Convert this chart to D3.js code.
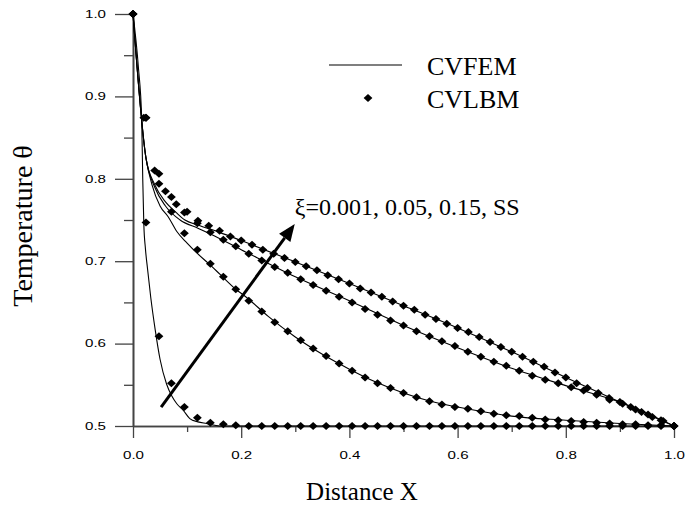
<!DOCTYPE html>
<html>
<head>
<meta charset="utf-8">
<script src="https://cdn.jsdelivr.net/npm/d3@7"></script>
<style>
  html, body { margin: 0; padding: 0; background: #fff; }
  svg { display: block; }
</style>
</head>
<body>
<div id="chart"></div>
<script>
// marker positions along X (CVLBM nodes)
const nodeX = [0, 0.024, 0.048, 0.071, 0.095, 0.119, 0.143, 0.167, 0.190, 0.214, 0.238, 0.262, 0.286, 0.310, 0.333,
  0.357, 0.381, 0.405, 0.429, 0.452, 0.476, 0.500, 0.524, 0.548, 0.571, 0.595, 0.619, 0.643, 0.667, 0.690, 0.714,
  0.738, 0.762, 0.786, 0.810, 0.833, 0.857, 0.881, 0.905, 0.929, 0.952, 0.976, 1.0];
const nodeXss = [0, 0.02, 0.04, 0.06, 0.08, 0.10, 0.12, 0.14, 0.16, 0.18, 0.20, 0.22, 0.24, 0.26, 0.28, 0.30, 0.32,
  0.34, 0.36, 0.38, 0.40, 0.42, 0.44, 0.46, 0.48, 0.50, 0.52, 0.54, 0.56, 0.58, 0.60, 0.62, 0.64, 0.66, 0.68, 0.70,
  0.72, 0.74, 0.76, 0.78, 0.80, 0.82, 0.84, 0.86, 0.88, 0.90, 0.92, 0.94, 0.96, 0.98, 1.0];

const lbm001 = [1.0, 0.747, 0.609, 0.552, 0.523, 0.510, 0.504, 0.502, 0.501, 0.5, 0.5, 0.5, 0.5, 0.5, 0.5, 0.5, 0.5,
  0.5, 0.5, 0.5, 0.5, 0.5, 0.5, 0.5, 0.5, 0.5, 0.5, 0.5, 0.5, 0.5, 0.5, 0.5, 0.5, 0.5, 0.5, 0.5, 0.5, 0.5, 0.5, 0.5,
  0.5, 0.5, 0.5];
const lbm005 = [1.0, 0.874, 0.794, 0.760, 0.734, 0.714, 0.697, 0.681, 0.666, 0.652, 0.639, 0.626, 0.615, 0.604, 0.594,
  0.585, 0.576, 0.567, 0.559, 0.552, 0.546, 0.540, 0.535, 0.530, 0.526, 0.523, 0.521, 0.518, 0.515, 0.513, 0.512,
  0.510, 0.508, 0.507, 0.506, 0.505, 0.504, 0.503, 0.502, 0.502, 0.501, 0.501, 0.500];
const lbm015 = [1.0, 0.874, 0.806, 0.778, 0.759, 0.746, 0.735, 0.726, 0.718, 0.709, 0.701, 0.693, 0.686, 0.678, 0.671,
  0.664, 0.657, 0.650, 0.642, 0.635, 0.628, 0.622, 0.615, 0.609, 0.603, 0.597, 0.590, 0.584, 0.578, 0.573, 0.567,
  0.561, 0.556, 0.552, 0.547, 0.543, 0.538, 0.532, 0.527, 0.520, 0.514, 0.507, 0.500];
const lbmSS = [1.0, 0.874, 0.810, 0.785, 0.769, 0.760, 0.749, 0.743, 0.737, 0.730, 0.725, 0.720, 0.714, 0.709, 0.704,
  0.699, 0.694, 0.689, 0.683, 0.678, 0.673, 0.667, 0.662, 0.657, 0.651, 0.646, 0.641, 0.635, 0.630, 0.624, 0.619,
  0.614, 0.608, 0.602, 0.596, 0.590, 0.584, 0.578, 0.572, 0.565, 0.559, 0.552, 0.546, 0.540, 0.534, 0.529, 0.523,
  0.517, 0.511, 0.506, 0.500];

// CVFEM solution curves
const femX001 = [0, 0.010, 0.016, 0.018, 0.020, 0.023, 0.027, 0.033, 0.041, 0.050, 0.062, 0.072, 0.081, 0.093, 0.105,
  0.120, 0.136, 0.160, 0.200, 1.0];
const fem001 = [1.0, 0.935, 0.874, 0.800, 0.745, 0.715, 0.690, 0.655, 0.617, 0.581, 0.551, 0.536, 0.527, 0.519, 0.509,
  0.505, 0.503, 0.500, 0.500, 0.500];
const femX005 = [0, 0.024, 0.035, 0.050, 0.065, 0.081, 0.100, 0.118, 0.140, 0.161, 0.190, 0.210, 0.250, 0.300, 0.350,
  0.400, 0.450, 0.500, 0.550, 0.600, 0.650, 0.700, 0.800, 0.900, 1.0];
const fem005 = [1.0, 0.825, 0.793, 0.767, 0.754, 0.736, 0.722, 0.710, 0.697, 0.684, 0.666, 0.656, 0.633, 0.608, 0.587,
  0.569, 0.553, 0.540, 0.530, 0.523, 0.517, 0.512, 0.507, 0.503, 0.500];
const femX015 = [0, 0.024, 0.040, 0.060, 0.087, 0.120, 0.143, 0.200, 0.300, 0.400, 0.500, 0.600, 0.700, 0.800, 0.900, 1.0];
const fem015 = [1.0, 0.825, 0.790, 0.767, 0.750, 0.740, 0.733, 0.714, 0.681, 0.652, 0.622, 0.595, 0.570, 0.549, 0.529, 0.500];
const femXss = [0, 0.024, 0.040, 0.060, 0.080, 0.096, 0.120, 0.160, 0.200, 0.300, 0.400, 0.500, 0.600, 0.700, 0.800,
  0.900, 1.0];
const femSS = [1.0, 0.825, 0.793, 0.772, 0.759, 0.750, 0.744, 0.735, 0.725, 0.699, 0.673, 0.646, 0.619, 0.590, 0.559,
  0.529, 0.500];

const xMajor = [0, 0.2, 0.4, 0.6, 0.8, 1.0];
const xMinor = [0.1, 0.3, 0.5, 0.7, 0.9];
const yMajor = [0.5, 0.6, 0.7, 0.8, 0.9, 1.0];
const yMinor = [0.55, 0.65, 0.75, 0.85, 0.95];

const legendLabels = ['CVFEM', 'CVLBM'];
const arrowFrom = [0.052, 0.523];
const arrowTo = [0.299, 0.745];
const arrowLabel = 'ξ=0.001, 0.05, 0.15, SS';

const width = 686;
const height = 508;
const serif = '"Liberation Serif", "Times New Roman", serif';
const sans = '"Liberation Sans", Arial, sans-serif';

const svg = d3.select('#chart').append('svg')
  .attr('width', width)
  .attr('height', height);

const x = d3.scaleLinear().domain([0, 1]).range([133, 674]);
const y = d3.scaleLinear().domain([0.5, 1]).range([426, 14]);

// axes
function styleAxis(g) {
  g.select('.domain').attr('stroke', '#444').attr('stroke-width', 1.6);
  g.selectAll('.tick line').attr('stroke', '#444').attr('stroke-width', 1.3);
}

const xAxis = svg.append('g')
  .attr('transform', `translate(0,${y(0.5)})`)
  .call(d3.axisBottom(x).tickValues(xMajor).tickSize(12).tickSizeOuter(0).tickPadding(14).tickFormat(d3.format('.1f')))
  .call(styleAxis);
xAxis.selectAll('text')
  .attr('font-family', sans).attr('font-size', 10).attr('fill', '#000')
  .attr('textLength', 21).attr('lengthAdjust', 'spacingAndGlyphs');

svg.append('g')
  .attr('transform', `translate(0,${y(0.5)})`)
  .call(d3.axisBottom(x).tickValues(xMinor).tickSize(6).tickSizeOuter(0).tickFormat(''))
  .call(styleAxis);

const yAxis = svg.append('g')
  .attr('transform', `translate(${x(0)},0)`)
  .call(d3.axisLeft(y).tickValues(yMajor).tickSize(18).tickSizeOuter(0).tickPadding(9).tickFormat(d3.format('.1f')))
  .call(styleAxis);
yAxis.selectAll('text')
  .attr('font-family', sans).attr('font-size', 10).attr('fill', '#000')
  .attr('textLength', 21).attr('lengthAdjust', 'spacingAndGlyphs');

svg.append('g')
  .attr('transform', `translate(${x(0)},0)`)
  .call(d3.axisLeft(y).tickValues(yMinor).tickSize(9).tickSizeOuter(0).tickFormat(''))
  .call(styleAxis);

// axis titles
svg.append('text')
  .attr('x', 362)
  .attr('y', 500)
  .attr('text-anchor', 'middle')
  .attr('font-family', serif)
  .attr('font-size', 25)
  .text('Distance X');

svg.append('text')
  .attr('transform', 'translate(32,226) rotate(-90)')
  .attr('text-anchor', 'middle')
  .attr('font-family', serif)
  .attr('font-size', 28)
  .text('Temperature θ');

// CVFEM lines
const line = d3.line()
  .x((d) => x(d[0]))
  .y((d) => y(d[1]))
  .curve(d3.curveMonotoneX);

const femSeries = [
  d3.zip(femX001, fem001),
  d3.zip(femX005, fem005),
  d3.zip(femX015, fem015),
  d3.zip(femXss, femSS),
];

svg.append('g')
  .selectAll('path')
  .data(femSeries)
  .join('path')
  .attr('d', line)
  .attr('fill', 'none')
  .attr('stroke', '#000')
  .attr('stroke-width', 1.1);

// CVLBM markers
const diamond = {
  draw(ctx, size) {
    const r = Math.sqrt(size) / 2;
    ctx.moveTo(0, -r);
    ctx.lineTo(r * 1.1, 0);
    ctx.lineTo(0, r);
    ctx.lineTo(-r * 1.1, 0);
    ctx.closePath();
  },
};
const marker = d3.symbol().type(diamond).size(64);

const lbmPoints = [].concat(
  d3.zip(nodeX, lbm001),
  d3.zip(nodeX, lbm005),
  d3.zip(nodeX, lbm015),
  d3.zip(nodeXss, lbmSS)
);

svg.append('g')
  .selectAll('path')
  .data(lbmPoints)
  .join('path')
  .attr('transform', (d) => `translate(${x(d[0])},${y(d[1])})`)
  .attr('d', marker)
  .attr('fill', '#000');

// arrow
const ax1 = x(arrowFrom[0]);
const ay1 = y(arrowFrom[1]);
const ax2 = x(arrowTo[0]);
const ay2 = y(arrowTo[1]);
const ang = Math.atan2(ay2 - ay1, ax2 - ax1);
const headLen = 17;
const headHalf = 7;
const bx = ax2 - headLen * Math.cos(ang);
const by = ay2 - headLen * Math.sin(ang);

svg.append('line')
  .attr('x1', ax1).attr('y1', ay1)
  .attr('x2', bx).attr('y2', by)
  .attr('stroke', '#000')
  .attr('stroke-width', 3);

svg.append('path')
  .attr('d', `M${ax2},${ay2}L${bx - headHalf * Math.sin(ang)},${by + headHalf * Math.cos(ang)}` +
    `L${bx + headHalf * Math.sin(ang)},${by - headHalf * Math.cos(ang)}Z`)
  .attr('fill', '#000');

svg.append('text')
  .attr('x', ax2)
  .attr('y', 215)
  .attr('font-family', serif)
  .attr('font-size', 24)
  .text(arrowLabel);

// legend
const legend = svg.append('g');
legend.append('line')
  .attr('x1', 329).attr('x2', 402)
  .attr('y1', 65).attr('y2', 65)
  .attr('stroke', '#000')
  .attr('stroke-width', 1.1);
legend.append('path')
  .attr('transform', 'translate(368,98)')
  .attr('d', marker)
  .attr('fill', '#000');
legend.selectAll('text')
  .data(legendLabels)
  .join('text')
  .attr('x', 427)
  .attr('y', (d, i) => 75 + i * 33)
  .attr('font-family', serif)
  .attr('font-size', 26)
  .text((d) => d);
</script>
</body>
</html>
